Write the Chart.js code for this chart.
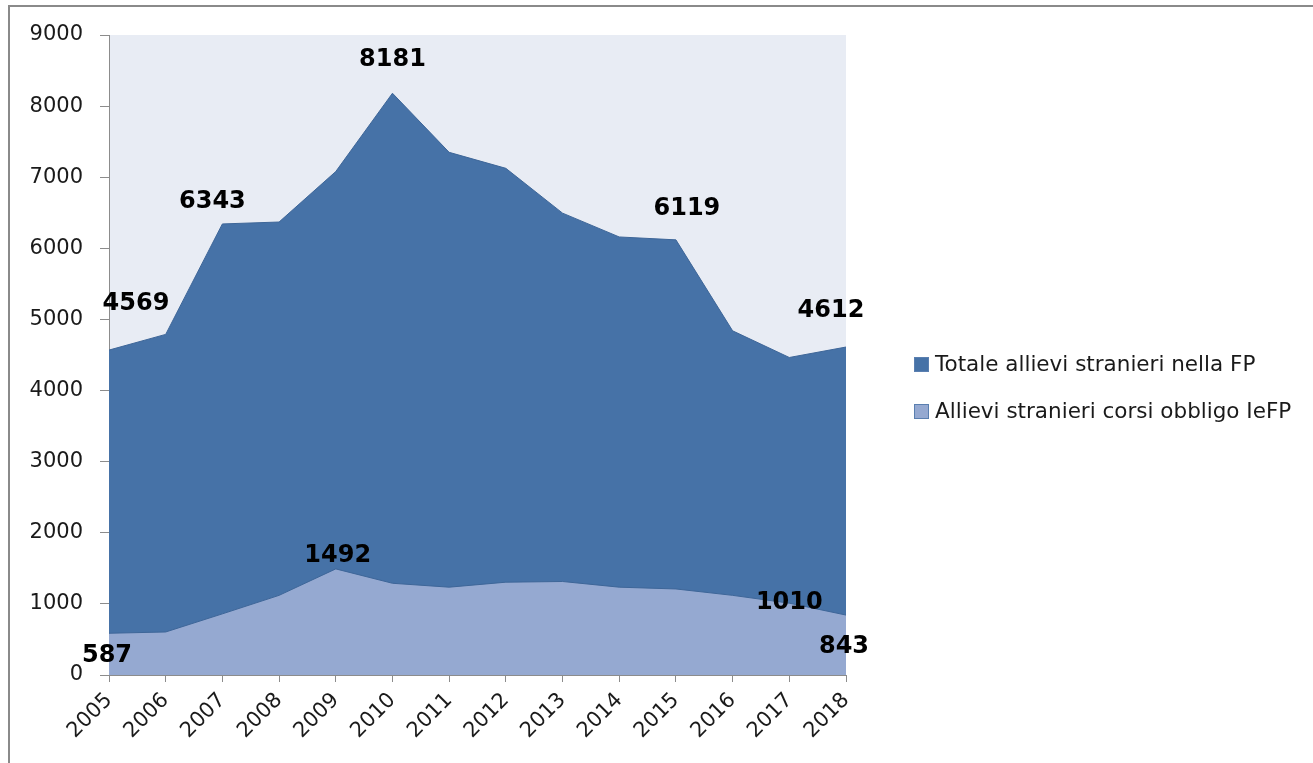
<!DOCTYPE html>
<html>
<head>
<meta charset="utf-8">
<script src="https://cdn.jsdelivr.net/npm/chart.js@4.4.1/dist/chart.umd.min.js"></script>
<style>
    html, body { margin: 0; padding: 0; background: #ffffff; }
    canvas { display: block; }
</style>
</head>
<body>
<canvas id="areaChart" width="1313" height="763"></canvas>
<script>
/* ===== DATA ===== */
const years = ['2005', '2006', '2007', '2008', '2009', '2010', '2011',
               '2012', '2013', '2014', '2015', '2016', '2017', '2018'];
const totaleFP = [4569, 4790, 6343, 6370, 7080, 8181, 7350,
                  7125, 6495, 6160, 6119, 4840, 4465, 4612];
const obbligoIeFP = [587, 605, 860, 1120, 1492, 1290, 1235,
                     1305, 1315, 1235, 1210, 1120, 1010, 843];
const yTicks = [0, 1000, 2000, 3000, 4000, 5000, 6000, 7000, 8000, 9000];
const seriesNames = ['Totale allievi stranieri nella FP', 'Allievi stranieri corsi obbligo IeFP'];

/* ===== STYLE ===== */
const darkBlue = '#4672a7';
const lightBlue = '#95a9d1';
const plotBg = '#e8ecf4';
const axisGray = '#8c8c8c';
const fontFamily = '"DejaVu Sans", sans-serif';

// which points get a value label, and where it sits relative to the point (px)
const labelSpots = [
    { series: 0, index: 0, dx: 27, dy: -46 },
    { series: 0, index: 2, dx: -10, dy: -22 },
    { series: 0, index: 5, dx: 0, dy: -33 },
    { series: 0, index: 10, dx: 11, dy: -31 },
    { series: 0, index: 13, dx: -15, dy: -36 },
    { series: 1, index: 0, dx: -2, dy: 23 },
    { series: 1, index: 4, dx: 2, dy: -13 },
    { series: 1, index: 12, dx: 0, dy: 0 },
    { series: 1, index: 13, dx: -2, dy: 32 }
];

/* ===== PLUGINS ===== */

// white page, grey outer frame, tinted plot area
const backgroundPlugin = {
    id: 'backgroundPlugin',
    beforeDraw(chart) {
        const { ctx, chartArea } = chart;
        ctx.save();
        ctx.fillStyle = '#ffffff';
        ctx.fillRect(0, 0, chart.width, chart.height);
        ctx.strokeStyle = '#8a8a8a';
        ctx.lineWidth = 2;
        ctx.strokeRect(9, 6, chart.width + 20, chart.height + 20);
        ctx.fillStyle = plotBg;
        ctx.fillRect(chartArea.left, chartArea.top,
                     chartArea.right - chartArea.left, chartArea.bottom - chartArea.top);
        ctx.restore();
    }
};

// bold numbers next to selected points
const valueLabelPlugin = {
    id: 'valueLabelPlugin',
    afterDatasetsDraw(chart) {
        const ctx = chart.ctx;
        ctx.save();
        ctx.font = 'bold 24px ' + fontFamily;
        ctx.fillStyle = '#000000';
        ctx.textAlign = 'center';
        ctx.textBaseline = 'middle';
        labelSpots.forEach(spot => {
            const point = chart.getDatasetMeta(spot.series).data[spot.index];
            const value = chart.data.datasets[spot.series].data[spot.index];
            ctx.fillText(String(value), point.x + spot.dx, point.y + spot.dy);
        });
        ctx.restore();
    }
};

// legend on the right, squares + names
const sideLegendPlugin = {
    id: 'sideLegendPlugin',
    afterDraw(chart) {
        const ctx = chart.ctx;
        const fills = [darkBlue, lightBlue];
        const rows = [364, 411];
        ctx.save();
        ctx.font = '21.5px ' + fontFamily;
        ctx.textBaseline = 'middle';
        ctx.textAlign = 'left';
        seriesNames.forEach((name, i) => {
            ctx.fillStyle = fills[i];
            ctx.fillRect(914, rows[i] - 7, 15, 15);
            ctx.strokeStyle = '#5a7fb0';
            ctx.lineWidth = 1;
            ctx.strokeRect(914.5, rows[i] - 6.5, 14, 14);
            ctx.fillStyle = '#1a1a1a';
            ctx.fillText(name, 935, rows[i] + 1);
        });
        ctx.restore();
    }
};

/* ===== CHART ===== */
const ctx = document.getElementById('areaChart').getContext('2d');

new Chart(ctx, {
    type: 'line',
    data: {
        labels: years,
        datasets: [
            {
                label: seriesNames[0],
                data: totaleFP,
                backgroundColor: darkBlue,
                borderColor: '#3e6698',
                borderWidth: 1,
                fill: 'origin',
                tension: 0,
                pointRadius: 0,
                order: 2
            },
            {
                label: seriesNames[1],
                data: obbligoIeFP,
                backgroundColor: lightBlue,
                borderColor: '#3e6698',
                borderWidth: 1,
                fill: 'origin',
                tension: 0,
                pointRadius: 0,
                order: 1
            }
        ]
    },
    options: {
        responsive: false,
        animation: false,
        layout: {
            padding: { left: 9, right: 467, top: 35, bottom: 0 }
        },
        plugins: {
            legend: { display: false },
            tooltip: { enabled: false }
        },
        scales: {
            x: {
                offset: false,
                afterFit(scale) { scale.height = 88; },
                grid: {
                    drawOnChartArea: false,
                    drawTicks: true,
                    tickLength: 7,
                    color: axisGray
                },
                border: { display: true, color: axisGray, width: 1 },
                ticks: {
                    autoSkip: false,
                    maxRotation: 45,
                    minRotation: 45,
                    padding: 6,
                    color: '#1a1a1a',
                    font: { family: fontFamily, size: 21 }
                }
            },
            y: {
                min: yTicks[0],
                max: yTicks[yTicks.length - 1],
                afterFit(scale) { scale.width = 100; },
                afterBuildTicks(scale) {
                    scale.ticks = yTicks.map(v => ({ value: v }));
                },
                grid: {
                    drawOnChartArea: false,
                    drawTicks: true,
                    tickLength: 9,
                    color: axisGray
                },
                border: { display: true, color: axisGray, width: 1 },
                ticks: {
                    padding: 17,
                    color: '#1a1a1a',
                    font: { family: fontFamily, size: 21 },
                    callback: function(value) {
                        return String(value);
                    }
                }
            }
        }
    },
    plugins: [backgroundPlugin, valueLabelPlugin, sideLegendPlugin]
});
</script>
</body>
</html>
